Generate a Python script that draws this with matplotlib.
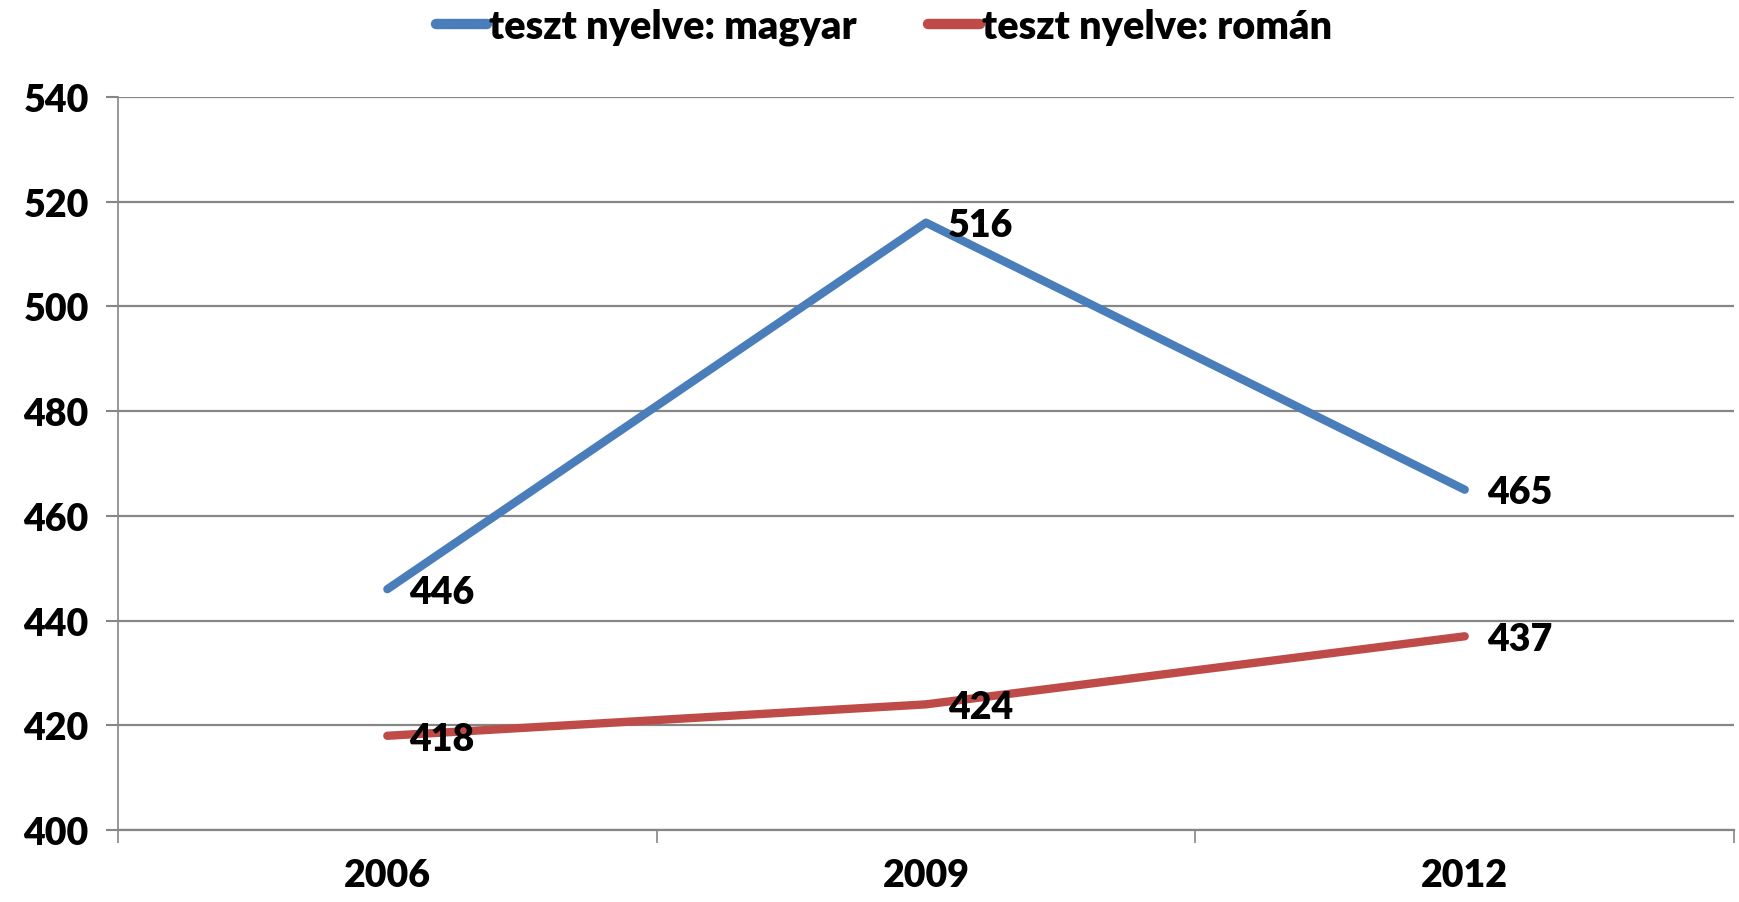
import matplotlib
matplotlib.use('Agg')
import matplotlib.pyplot as plt

# adatok
years = ['2006', '2009', '2012']
magyar = [446, 516, 465]
roman = [418, 424, 437]
series_names = ['teszt nyelve: magyar', 'teszt nyelve: román']
y_ticks = [400, 420, 440, 460, 480, 500, 520, 540]

plt.rcParams['font.family'] = ['Lato', 'DejaVu Sans']
plt.rcParams['font.weight'] = 'heavy'

fig = plt.figure(figsize=(17.4, 9.03), dpi=100)
ax = fig.add_axes([0.0678, 0.0797, 0.9288, 0.8118])

x = range(len(years))
colors = ['#4A7EBB', '#BE4B48']
for vals, name, c in zip([magyar, roman], series_names, colors):
    ax.plot(x, vals, color=c, lw=6, solid_capstyle='round', label=name)
    for xi, v in zip(x, vals):
        ax.annotate(str(v), (xi, v), xytext=(16, -2), textcoords='offset points',
                    ha='left', va='center', fontsize=27, fontweight='heavy')

ax.set_xlim(-0.5, 2.5)
ax.set_ylim(400, 540)
ax.set_yticks(y_ticks)
ax.set_yticklabels([str(t) for t in y_ticks], fontsize=27, fontweight='heavy')
ax.set_xticks([-0.5, 0.5, 1.5, 2.5])
ax.set_xticklabels([])
ax.set_xticks(list(x), minor=True)
ax.set_xticklabels(years, minor=True, fontsize=27, fontweight='heavy')
ax.tick_params(axis='x', which='minor', length=0, pad=20)
ax.tick_params(axis='x', which='major', length=9, width=1.2, color='#868686', direction='out')
ax.tick_params(axis='y', length=9, width=1.5, color='#868686', pad=12)

ax.grid(axis='y', color='#868686', lw=1.6)
ax.set_axisbelow(True)
for s in ['top', 'right']:
    ax.spines[s].set_visible(False)
ax.spines['left'].set_color('#868686')
ax.spines['left'].set_linewidth(1.2)
ax.spines['bottom'].set_color('#868686')
ax.spines['bottom'].set_linewidth(1.6)

leg = fig.legend(loc='upper center', bbox_to_anchor=(0.508, 1.03), ncol=2, frameon=False,
                 prop={'size': 28.5, 'weight': 'heavy'}, handlelength=1.3, handletextpad=0.05,
                 columnspacing=1.8)
for h in leg.get_lines():
    h.set_linewidth(7.5)

plt.savefig('out.png', dpi=100)
plt.close()
